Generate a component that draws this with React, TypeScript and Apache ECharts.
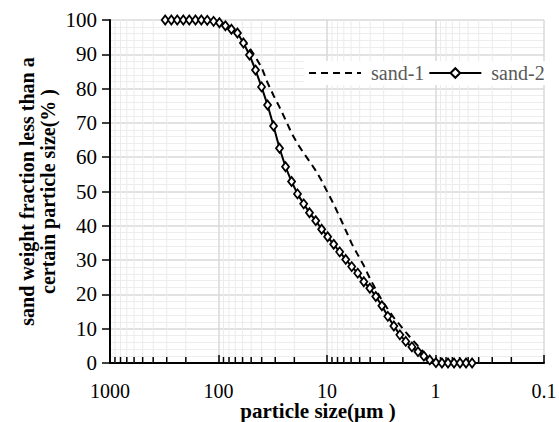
import React, { useEffect, useRef } from "react";
import * as echarts from "echarts";

const sizes = [310, 272, 240, 211, 186, 163, 144, 127, 111, 98.1, 86.4, 76.0, 66.9, 58.9, 51.8, 45.6, 40.1, 35.3, 31.1, 27.4, 24.1, 21.2, 18.7, 16.4, 14.5, 12.7, 11.2, 9.86, 8.68, 7.64, 6.72, 5.92, 5.21, 4.58, 4.03, 3.55, 3.12, 2.75, 2.42, 2.13, 1.88, 1.65, 1.45, 1.28, 1.13, 0.991, 0.872, 0.767, 0.675, 0.594, 0.523, 0.46];

const sand1 = [100, 100, 100, 100, 100, 100, 100, 100, 99.8, 99.4, 98.7, 97.7, 96.3, 94.2, 91.9, 89.2, 86.2, 81.7, 78.0, 74.6, 70.9, 67.0, 63.9, 61.2, 58.8, 56.1, 53.1, 49.7, 46.3, 42.6, 38.7, 34.8, 31.6, 28.4, 24.7, 21.4, 18.3, 15.7, 13.2, 11.1, 9.0, 6.9, 5.0, 3.1, 1.4, 0, 0, 0, 0, 0, 0, 0];

const sand2 = [100, 100, 100, 100, 100, 100, 100, 99.9, 99.6, 99.2, 98.3, 97.3, 96.2, 93.3, 89.8, 85.4, 80.5, 75.2, 69.1, 62.6, 57.2, 52.9, 49.3, 46.4, 43.8, 41.5, 39.0, 36.8, 34.6, 32.4, 30.2, 28.1, 26.2, 23.7, 21.8, 19.4, 16.7, 13.6, 10.8, 8.2, 6.3, 4.7, 3.3, 2.0, 0.9, 0.1, 0, 0, 0, 0, 0, 0];

const minorTicks = [900, 800, 700, 600, 500, 400, 300, 200, 90, 80, 70, 60, 50, 40, 30, 20, 9, 8, 7, 6, 5, 4, 3, 2, 0.9, 0.8, 0.7, 0.6, 0.5, 0.4, 0.3, 0.2];

const seriesNames = ["sand-1", "sand-2"];
const xTitle = "particle size(μm )";
const yTitle = "sand weight fraction less than a\ncertain particle size(% )";

const FONT = "Liberation Serif";

export default function App() {
  const ref = useRef<HTMLDivElement>(null);
  useEffect(() => {
    if (!ref.current) return;
    const chart = echarts.init(ref.current, undefined, { renderer: "svg" });
    const option = {
      animation: false,
      backgroundColor: "#fff",
      grid: { left: 110, right: 15, top: 20, bottom: 59, containLabel: false, outerBoundsMode: "none" },
      legend: {
        data: [
          { name: seriesNames[0], itemStyle: { opacity: 0, color: "transparent", borderWidth: 0 } },
          { name: seriesNames[1] },
        ],
        left: 304,
        top: 61,
        itemWidth: 52,
        itemHeight: 12,
        itemGap: 4,
        padding: [2, 4],
        backgroundColor: "#fff",
        textStyle: { fontFamily: FONT, fontSize: 20, color: "#595959", padding: [0, 0, 0, 5] },
      },
      xAxis: {
        type: "log",
        logBase: 10,
        min: 0.1,
        max: 1000,
        inverse: true,
        axisLine: { lineStyle: { color: "#000", width: 2 } },
        axisTick: { inside: true, length: 8, lineStyle: { color: "#000", width: 1.5 } },
        axisLabel: {
          fontFamily: FONT,
          fontSize: 20,
          lineHeight: 18,
          color: "#000",
          margin: 19,
          formatter: (v: number) => (v < 1 ? v.toFixed(1) : String(Math.round(v))),
        },
        splitLine: { show: true, lineStyle: { color: "#d9d9d9", width: 1.5 } },
        name: xTitle,
        nameLocation: "middle",
        nameGap: 38,
        nameMoveOverlap: false,
        nameTextStyle: { fontFamily: FONT, fontSize: 21, lineHeight: 19, fontWeight: "bold", color: "#000", padding: [0, 18, 0, 0] },
      },
      yAxis: {
        type: "value",
        min: 0,
        max: 100,
        interval: 10,
        axisLine: { show: true, lineStyle: { color: "#000", width: 2 } },
        axisTick: { show: true, length: 8, lineStyle: { color: "#000", width: 1.5 } },
        axisLabel: { fontFamily: FONT, fontSize: 21, color: "#000", margin: 13 },
        splitLine: { show: true, lineStyle: { color: "#d9d9d9", width: 1.5 } },
        minorTick: { show: false, splitNumber: 5 },
        minorSplitLine: { show: true, lineStyle: { color: "#ededed", width: 1 } },
        name: yTitle,
        nameLocation: "middle",
        nameGap: 52,
        nameRotate: 90,
        nameMoveOverlap: false,
        nameTextStyle: { fontFamily: FONT, fontSize: 20, fontWeight: "bold", color: "#000", lineHeight: 21, align: "center" },
      },
      series: [
        {
          type: "custom",
          name: "minor",
          z: 1,
          silent: true,
          clip: false,
          data: minorTicks.map((v) => [v, 0]),
          renderItem: (params: any, api: any) => {
            const v = api.value(0);
            const bot = api.coord([v, 0]);
            const top = api.coord([v, 100]);
            return {
              type: "group",
              children: [
                {
                  type: "line",
                  shape: { x1: bot[0], y1: bot[1], x2: top[0], y2: top[1] },
                  style: { stroke: "#ebebeb", lineWidth: 1 },
                },
                {
                  type: "line",
                  shape: { x1: bot[0], y1: bot[1], x2: bot[0], y2: bot[1] - 6 },
                  style: { stroke: "#000", lineWidth: 1.5 },
                },
              ],
            };
          },
        },
        {
          type: "line",
          name: seriesNames[0],
          z: 3,
          data: sizes.map((s, i) => [s, sand1[i]]),
          symbol: "none",
          lineStyle: { color: "#000", width: 2, type: [7, 5] },
          itemStyle: { color: "#000" },
        },
        {
          type: "line",
          name: seriesNames[1],
          z: 4,
          data: sizes.map((s, i) => [s, sand2[i]]),
          symbol: "diamond",
          symbolSize: [7, 9],
          lineStyle: { color: "#000", width: 2 },
          itemStyle: { color: "#fff", borderColor: "#000", borderWidth: 1.8 },
        },
      ],
    };
    chart.setOption(option as any);
    return () => chart.dispose();
  }, []);
  return <div ref={ref} style={{ width: 559, height: 422, position: "absolute", left: 0, top: 0 }} />;
}
